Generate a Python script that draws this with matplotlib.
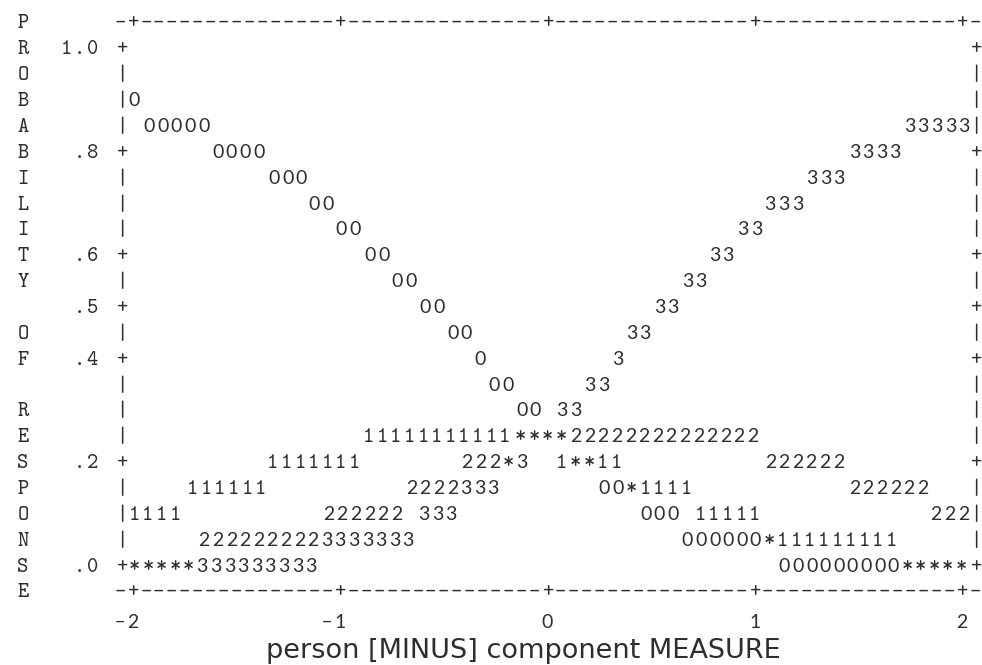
import matplotlib
matplotlib.use("Agg")
import matplotlib.pyplot as plt

# Winsteps style text plot: 16 character columns per logit, column 0 sits on -2
COLS = 16
X_LO, X_HI = -2, 2
ROW = 0.05          # probability step between text lines
ADV = 1.05          # curve glyphs run a little wider than the frame glyphs

x_ticks = [-2, -1, 0, 1, 2]
x_tick_labels = ["-2", "-1", "0", "1", "2"]
y_ticks = [1.0, 0.8, 0.6, 0.5, 0.4, 0.2, 0.0]
y_tick_labels = ["1.0", ".8", ".6", ".5", ".4", ".2", ".0"]
y_title = "PROBABILITY OF RESPONSE"
x_title = "person [MINUS] component MEASURE"

# curve runs: probability row, first column, characters
run_prob = [0.90,
            0.85, 0.85,
            0.80, 0.80,
            0.75, 0.75,
            0.70, 0.70,
            0.65, 0.65,
            0.60, 0.60,
            0.55, 0.55,
            0.50, 0.50,
            0.45, 0.45,
            0.40, 0.40,
            0.35, 0.35,
            0.30, 0.30,
            0.25, 0.25, 0.25,
            0.20, 0.20, 0.20, 0.20,
            0.15, 0.15, 0.15, 0.15,
            0.10, 0.10, 0.10, 0.10,
            0.05, 0.05,
            0.00, 0.00]
run_col = [0.1,
           1.26, 59.95,
           6.55, 55.7,
           10.9, 52.4,
           14.0, 49.2,
           16.1, 47.1,
           18.3, 44.9,
           20.4, 42.8,
           22.55, 40.65,
           24.7, 38.5,
           26.8, 37.4,
           27.9, 35.3,
           30.0, 33.1,
           18.2, 29.9, 34.2,
           10.8, 25.8, 33.1, 49.2,
           4.6, 21.5, 36.4, 55.7,
           0.1, 15.1, 39.6, 62.0,
           5.5, 42.8,
           0.1, 50.3]
run_text = ["0",
            "00000", "33333",
            "0000", "3333",
            "000", "333",
            "00", "333",
            "00", "33",
            "00", "33",
            "00", "33",
            "00", "33",
            "00", "33",
            "0", "3",
            "00", "33",
            "00", "33",
            "11111111111", "****", "22222222222222",
            "1111111", "222*3", "1**11", "222222",
            "111111", "2222333", "00*1111", "222222",
            "1111", "222222 333", "000 11111", "222",
            "2222222223333333", "000000*111111111",
            "*****333333333", "000000000*****"]

INK = "#2e2e2e"
MONO = "cmtt10"
SANS = "Lato"


def col_x(c):
    return X_LO + c / COLS


def put(ch, c, p, family, size):
    if ch == " ":
        return
    # baseline sits half a cap height under the row centre
    ax.text(col_x(c), p - 0.0128, ch, family=family, fontsize=size,
            color=INK, ha="center", va="baseline")


fig = plt.figure(figsize=(9.82, 6.65), dpi=100)
ax = fig.add_axes([0, 0, 1, 1])
px_per_logit = 829 / 4
px_per_prob = 517.3
ax.set_xlim(X_LO - 133 / px_per_logit, X_HI + 20 / px_per_logit)
ax.set_ylim(1 - (665 - 47.7) / px_per_prob, 1 + 47.7 / px_per_prob)
ax.axis("off")

n_cols = COLS * (X_HI - X_LO)
tick_cols = [round((t - X_LO) * COLS) for t in x_ticks]

# frame: dashed rows top and bottom, | and + down the sides
for p in (1 + ROW, -ROW):
    for c in range(-1, n_cols + 2):
        put("+" if c in tick_cols else "-", c, p, MONO, 15.5)
n_rows = round(1 / ROW)
for i in range(n_rows + 1):
    p = 1 - i * ROW
    mark = "+" if any(abs(p - t) < 1e-6 for t in y_ticks) else "|"
    put(mark, -0.9, p, MONO, 15.5)
    put(mark, n_cols + 1.1, p, MONO, 15.5)

# y title, one letter per text row
for i, ch in enumerate(y_title):
    put(ch, -8.5, 1 + ROW - i * ROW, MONO, 15.5)

# y tick labels, right aligned before the frame
for t, lab in zip(y_ticks, y_tick_labels):
    for k, ch in enumerate(lab):
        put(ch, -3.15 - (len(lab) - 1 - k), t, MONO, 15.5)

# x tick labels, last digit under the tick
for t, lab in zip(x_ticks, x_tick_labels):
    c0 = (t - X_LO) * COLS
    for k, ch in enumerate(lab):
        fam = SANS if ch.isdigit() else MONO
        put(ch, c0 - (len(lab) - 1 - k), -0.109, fam, 14)

# probability curves
for p, c, txt in zip(run_prob, run_col, run_text):
    for k, ch in enumerate(txt):
        fam = MONO if ch in "1*" else SANS
        put(ch, c + k * ADV, p, fam, 15.5 if fam == MONO else 14)

ax.text(col_x(30.15), 1 - (657.5 - 47.7) / px_per_prob, x_title,
        family="DejaVu Sans", fontsize=19.5, color=INK,
        ha="center", va="baseline")

fig.savefig("out.png", dpi=100)
